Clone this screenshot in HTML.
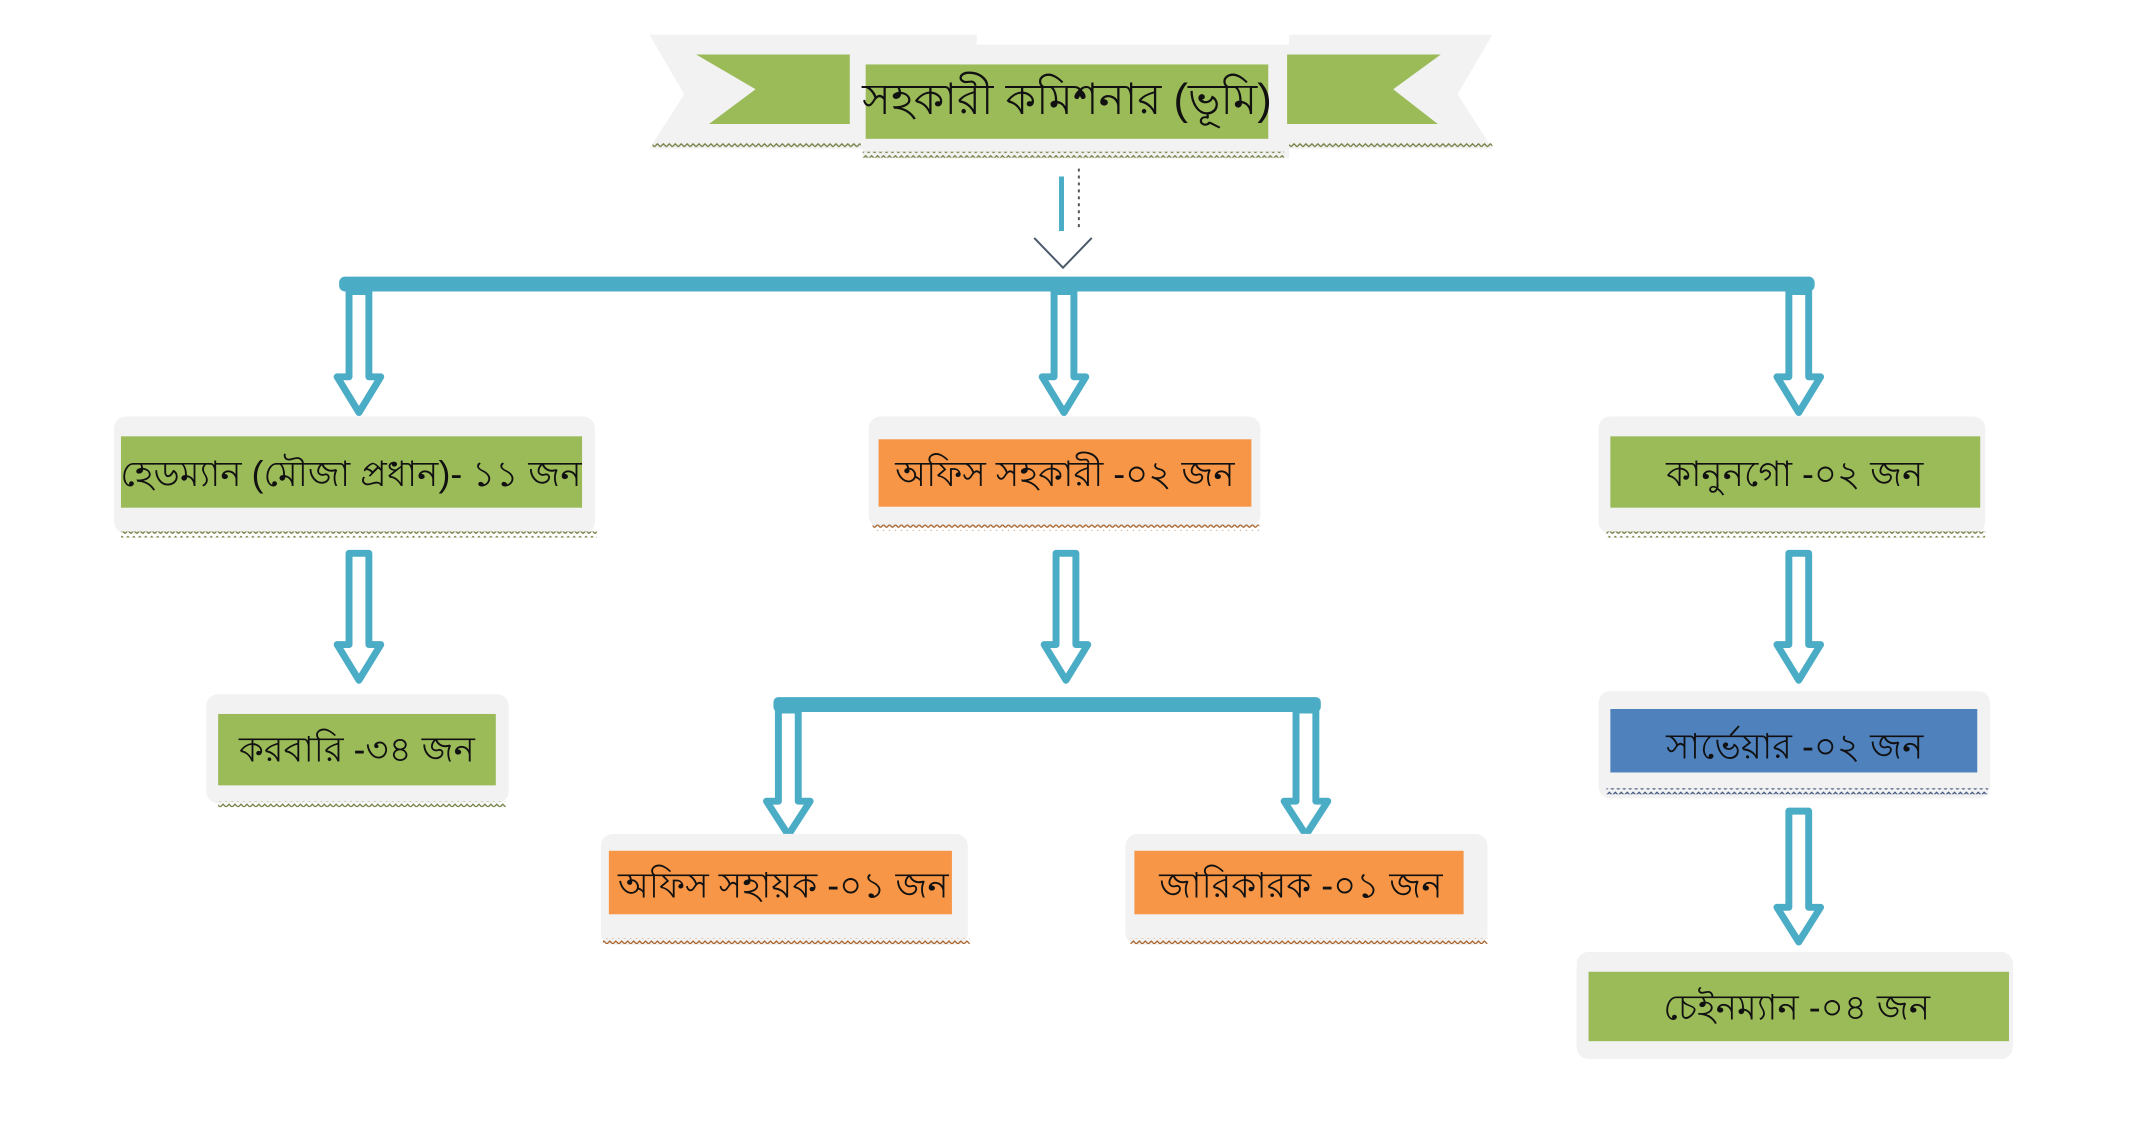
<!DOCTYPE html>
<html><head><meta charset="utf-8"><style>
html,body{margin:0;padding:0;background:#fff;}
svg{display:block;}
text{font-family:"Liberation Sans","Noto Sans CJK SC",sans-serif;fill:#111;}
</style></head><body>
<svg width="2152" height="1123" viewBox="0 0 2152 1123" xmlns="http://www.w3.org/2000/svg">
<defs>
<pattern id="zg" width="6" height="6" patternUnits="userSpaceOnUse"><path d="M0 4 L3 1 L6 4" stroke="#6b7a3a" stroke-width="1.3" fill="none"/></pattern>
<pattern id="zo" width="6" height="6" patternUnits="userSpaceOnUse"><path d="M0 4 L3 1 L6 4" stroke="#a8622a" stroke-width="1.3" fill="none"/></pattern>
<pattern id="zb" width="6" height="6" patternUnits="userSpaceOnUse"><path d="M0 4 L3 1 L6 4" stroke="#3a4f7a" stroke-width="1.3" fill="none"/></pattern>
</defs>
<g transform="scale(0.9916)">
<!-- Top banner -->
<path d="M655 35 L985 35 L985 45 L1300 45 L1300 35 L1505 35 L1470 95 L1505 150 L1300 150 L1300 160 L870 160 L870 150 L655 150 L690 95 Z" fill="#f2f2f2"/>
<rect x="658" y="143" width="210" height="6" fill="url(#zg)"/>
<rect x="870" y="153" width="425" height="6" fill="url(#zg)"/>
<rect x="1300" y="143" width="205" height="6" fill="url(#zg)"/>
<path d="M702 55 L857 55 L857 125 L715 125 L762 90 Z" fill="#9bbb59"/>
<path d="M1298 55 L1453 55 L1405 90 L1450 125 L1298 125 Z" fill="#9bbb59"/>
<rect x="873" y="65" width="406" height="75" fill="#9bbb59"/>
<text x="1076" y="115" font-size="44" text-anchor="middle">সহকারী কমিশনার (ভূমি)</text>

<!-- small dotted arrow -->
<rect x="1068" y="178" width="5" height="55" fill="#4bacc6"/>
<line x1="1088" y1="170" x2="1088" y2="230" stroke="#555" stroke-width="2" stroke-dasharray="3,4"/>
<path d="M1043 240 L1072 270 L1101 240" stroke="#4a5a6a" stroke-width="2" fill="none"/>

<!-- Main bar -->
<rect x="342" y="279" width="1488" height="15" rx="6" fill="#4bacc6"/>

<g fill="#fff" stroke="#4bacc6" stroke-width="7" stroke-linejoin="round">
<polygon points="352,294 372,294 372,380 384,380 362,416 340,380 352,380"/>
<polygon points="1063,294 1083,294 1083,380 1095,380 1073,416 1051,380 1063,380"/>
<polygon points="1804,294 1824,294 1824,380 1836,380 1814,416 1792,380 1804,380"/>
<polygon points="352,558 372,558 372,650 384,650 362,686 340,650 352,650"/>
<polygon points="1065,558 1085,558 1085,650 1097,650 1075,686 1053,650 1065,650"/>
<polygon points="1804,558 1824,558 1824,650 1836,650 1814,686 1792,650 1804,650"/>
<polygon points="785,716 805,716 805,808 817,808 795,842 773,808 785,808"/>
<polygon points="1307,716 1327,716 1327,808 1339,808 1317,842 1295,808 1307,808"/>
<polygon points="1804,818 1824,818 1824,915 1836,915 1814,950 1792,915 1804,915"/>
</g>
<rect x="780" y="703" width="552" height="15" rx="5" fill="#4bacc6"/>

<!-- Row 1 -->
<rect x="115" y="420" width="485" height="118" rx="12" fill="#f2f2f2"/>
<rect x="122" y="440" width="465" height="72" fill="#9bbb59"/>
<rect x="122" y="536" width="480" height="6" fill="url(#zg)"/>
<text x="354" y="490" font-size="36" text-anchor="middle">হেডম্যান (মৌজা প্রধান)- ১১ জন</text>

<rect x="876" y="420" width="395" height="112" rx="12" fill="#f2f2f2"/>
<rect x="886" y="443" width="376" height="68" fill="#f79646"/>
<rect x="880" y="529" width="390" height="6" fill="url(#zo)"/>
<text x="1074" y="490" font-size="36" text-anchor="middle">অফিস সহকারী -০২ জন</text>

<rect x="1612" y="420" width="390" height="118" rx="12" fill="#f2f2f2"/>
<rect x="1624" y="440" width="373" height="72" fill="#9bbb59"/>
<rect x="1620" y="536" width="382" height="6" fill="url(#zg)"/>
<text x="1810" y="490" font-size="36" text-anchor="middle">কানুনগো -০২ জন</text>

<!-- Row 2 -->
<rect x="208" y="700" width="305" height="110" rx="12" fill="#f2f2f2"/>
<rect x="220" y="720" width="280" height="72" fill="#9bbb59"/>
<rect x="220" y="808" width="290" height="6" fill="url(#zg)"/>
<text x="360" y="768" font-size="36" text-anchor="middle">করবারি -৩৪ জন</text>

<rect x="1612" y="697" width="395" height="108" rx="12" fill="#f2f2f2"/>
<rect x="1624" y="715" width="370" height="64" fill="#4f81bd"/>
<rect x="1620" y="795" width="385" height="6" fill="url(#zb)"/>
<text x="1810" y="765" font-size="36" text-anchor="middle">সার্ভেয়ার -০২ জন</text>

<!-- Row 3 -->
<rect x="606" y="841" width="370" height="112" rx="12" fill="#f2f2f2"/>
<rect x="614" y="858" width="346" height="64" fill="#f79646"/>
<rect x="608" y="946" width="370" height="6" fill="url(#zo)"/>
<text x="790" y="905" font-size="36" text-anchor="middle">অফিস সহায়ক -০১ জন</text>

<rect x="1135" y="841" width="365" height="112" rx="12" fill="#f2f2f2"/>
<rect x="1144" y="858" width="332" height="64" fill="#f79646"/>
<rect x="1140" y="946" width="360" height="6" fill="url(#zo)"/>
<text x="1312" y="905" font-size="36" text-anchor="middle">জারিকারক -০১ জন</text>

<rect x="1590" y="960" width="440" height="108" rx="12" fill="#f2f2f2"/>
<rect x="1602" y="980" width="424" height="70" fill="#9bbb59"/>
<text x="1812" y="1028" font-size="36" text-anchor="middle">চেইনম্যান -০৪ জন</text>
</g>
</svg>
</body></html>
